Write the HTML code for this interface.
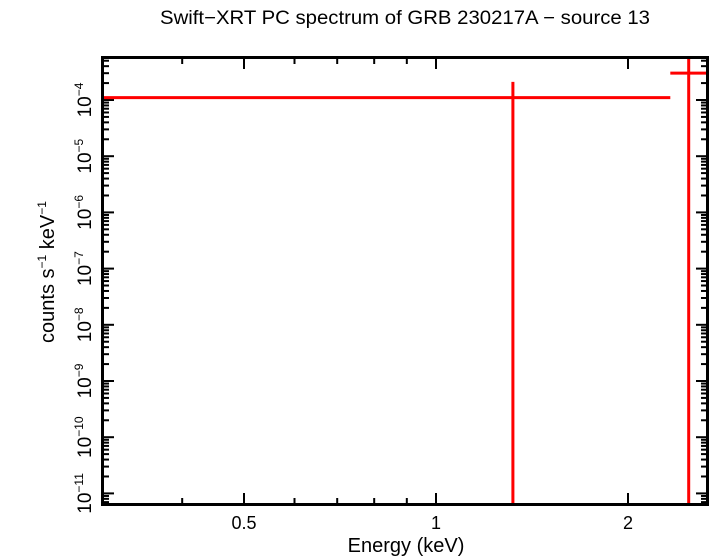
<!DOCTYPE html>
<html><head><meta charset="utf-8"><style>
body{margin:0;background:#fff;}
svg{display:block;font-family:"Liberation Sans",sans-serif;}
</style></head><body>
<svg id="chart" width="710" height="556" viewBox="0 0 710 556">
<text x="405" y="24" font-size="19" text-anchor="middle" textLength="490" lengthAdjust="spacingAndGlyphs">Swift−XRT PC spectrum of GRB 230217A − source 13</text>
<text x="406" y="552" font-size="20" text-anchor="middle">Energy (keV)</text>
<text transform="translate(54,272) rotate(-90)" font-size="20" text-anchor="middle">counts s<tspan font-size="12" dy="-8">−1</tspan><tspan dy="8"> keV</tspan><tspan font-size="12" dy="-8">−1</tspan></text>
<g id="ticks"></g>
<g id="marks"></g>
<rect x="102.5" y="57.5" width="605" height="447" fill="none" stroke="#000" stroke-width="3"/>
</svg>
<script>
const energyCenters=[1.32,2.49];
const energyLow=[0.3,2.33];
const energyHigh=[2.33,2.67];
const rates=[1.1e-4,3.0e-4];
const rateLow=[1e-12,1e-12];
const rateHigh=[2.1e-4,1e-2];
const xTickLabels=["0.5","1","2"];
const xTickValues=[0.5,1,2];
const xMinorValues=[0.4,0.6,0.7,0.8,0.9];
const yTickExps=[-4,-5,-6,-7,-8,-9,-10,-11];

const L=102,R=708,T=57,B=505;
const X=e=>244+192*Math.log2(e/0.5);
const Y=v=>100-56.2*(Math.log10(v)+4);
const clampY=y=>Math.max(T,Math.min(B,y));
const clampX=x=>Math.max(L,Math.min(R,x));
const ns="http://www.w3.org/2000/svg";
const tg=document.getElementById('ticks'),mg=document.getElementById('marks');
function ln(g,x1,y1,x2,y2,c,w,name){const l=document.createElementNS(ns,'line');
l.setAttribute('x1',x1);l.setAttribute('y1',y1);l.setAttribute('x2',x2);l.setAttribute('y2',y2);
l.setAttribute('stroke',c);l.setAttribute('stroke-width',w);


g.appendChild(l);}
function tx(x,y,s,anchor,rot,name,html,fs){const t=document.createElementNS(ns,'text');
t.setAttribute('x',x);t.setAttribute('y',y);t.setAttribute('font-size',fs||'18');t.setAttribute('text-anchor',anchor);
if(rot)t.setAttribute('transform',rot);t.innerHTML=html||s;


tg.appendChild(t);}
xMinorValues.forEach(v=>{const x=X(v);ln(tg,x,B,x,B-7,'#000',2,'x-minor-tick');ln(tg,x,T,x,T+7,'#000',2,'x-minor-tick-top');});
xTickValues.forEach((v,i)=>{const x=X(v);ln(tg,x,B,x,B-12,'#000',2,'x-tick');ln(tg,x,T,x,T+12,'#000',2,'x-tick-top');
tx(x,529,xTickLabels[i],'middle',null,'x-tick-label');});
for(let ex=-12;ex<=-3;ex++){for(let m=1;m<10;m++){const y=Y(m*Math.pow(10,ex));if(y<T||y>B)continue;
const len=m===1?12:7;ln(tg,L,y,L+len,y,'#000',2,'y-tick');ln(tg,R,y,R-len,y,'#000',2,'y-tick-right');}}
yTickExps.forEach(ex=>{const y=Y(Math.pow(10,ex));
tx(91,y,'','middle','rotate(-90 91 '+y+')','y-tick-label','10<tspan font-size="12" dy="-8">'+ex.toString().replace('-','−')+'</tspan>','19');});
energyCenters.forEach((e,i)=>{const y=Y(rates[i]);
ln(mg,clampX(X(energyLow[i])),y,clampX(X(energyHigh[i])),y,'#f00',3,'x-error-bar');
ln(mg,X(e),clampY(Y(rateHigh[i])),X(e),clampY(Y(rateLow[i])),'#f00',3,'y-error-bar');});
</script>
</body></html>
